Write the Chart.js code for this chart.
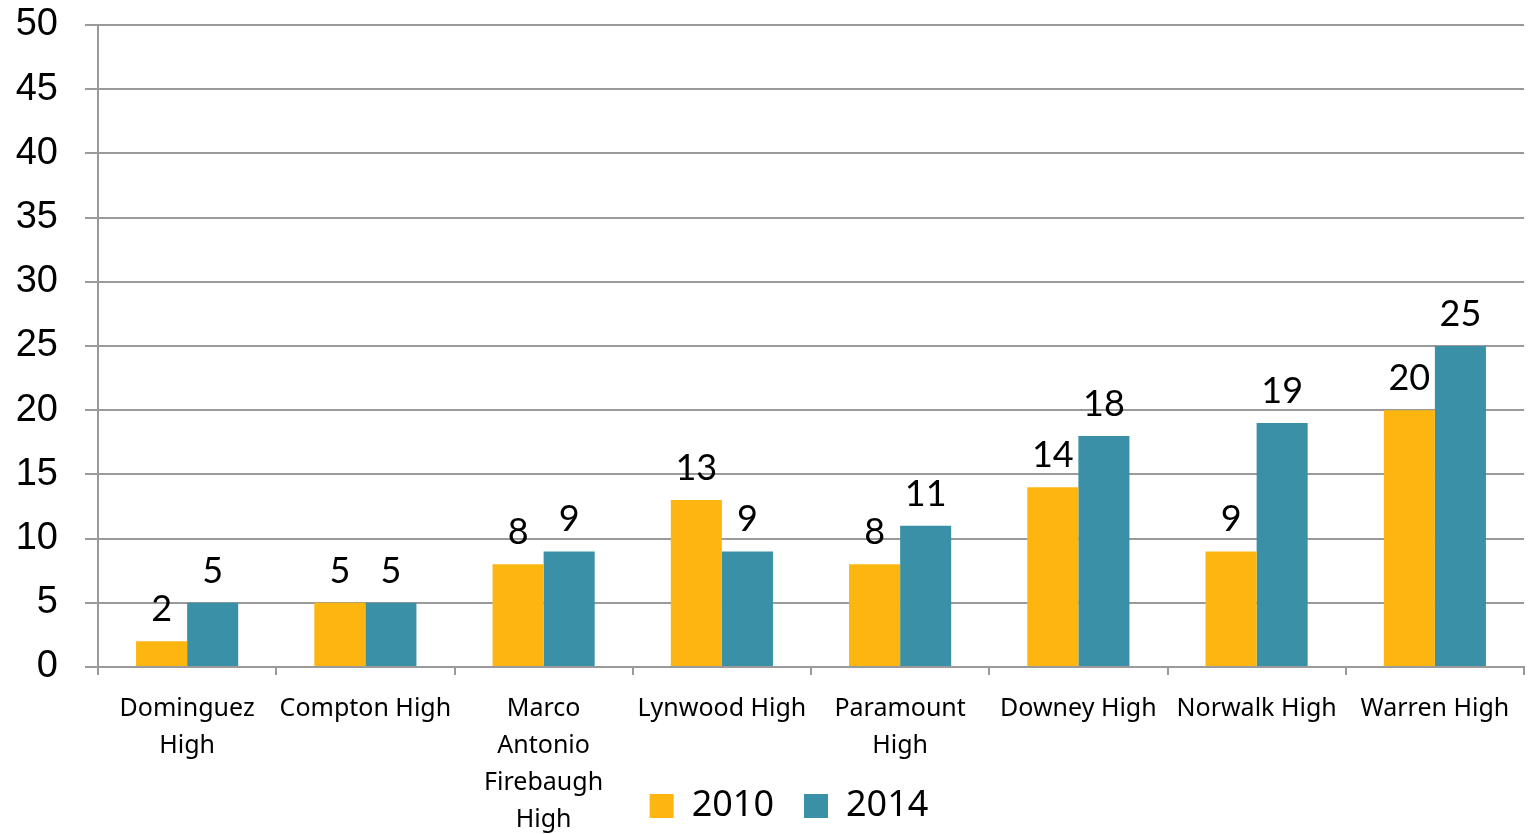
<!DOCTYPE html>
<html>
<head>
<meta charset="utf-8">
<script src="https://cdn.jsdelivr.net/npm/chart.js@4.4.0/dist/chart.umd.min.js"></script>
<style>
  html, body { margin: 0; padding: 0; background: #fff; }
  canvas { display: block; }
</style>
</head>
<body>
<canvas id="chart" width="1529" height="834"></canvas>
<script>
const schools = [
  ['Dominguez', 'High'],
  'Compton High',
  ['Marco', 'Antonio', 'Firebaugh', 'High'],
  'Lynwood High',
  ['Paramount', 'High'],
  'Downey High',
  'Norwalk High',
  'Warren High'
];
const values2010 = [2, 5, 8, 13, 8, 14, 9, 20];
const values2014 = [5, 5, 9, 9, 11, 18, 19, 25];
const yTicks = [0, 5, 10, 15, 20, 25, 30, 35, 40, 45, 50];

const orange = '#FDB60F';
const teal = '#3A91A7';
const gridColor = '#9a9a9a';

// draws the number above every bar
const barLabels = {
  id: 'barLabels',
  afterDatasetsDraw(chart) {
    const ctx = chart.ctx;
    ctx.save();
    ctx.font = '36px Lato';
    ctx.fillStyle = '#000';
    ctx.textAlign = 'center';
    ctx.textBaseline = 'alphabetic';
    chart.data.datasets.forEach(function(ds, i) {
      chart.getDatasetMeta(i).data.forEach(function(bar, j) {
        ctx.fillText(ds.data[j], bar.x, bar.y - 20);
      });
    });
    ctx.restore();
  }
};

// the long school names run down beside the legend, so don't clip them at the axis box
// and nudge the legend a bit right like in the original
const layoutTweaks = {
  id: 'layoutTweaks',
  afterLayout(chart) {
    chart.scales.x.bottom = chart.height;
    chart.legend.left += 27;
    chart.legend.right += 27;
  }
};

const ctx = document.getElementById('chart').getContext('2d');
window.myChart = new Chart(ctx, {
  type: 'bar',
  data: {
    labels: schools,
    datasets: [
      { label: '2010', data: values2010, backgroundColor: orange },
      { label: '2014', data: values2014, backgroundColor: teal }
    ]
  },
  options: {
    responsive: false,
    animation: false,
    devicePixelRatio: 1,
    layout: { padding: { top: 25, right: 5, left: 0, bottom: 0 } },
    datasets: {
      bar: { categoryPercentage: 0.573, barPercentage: 1.0 }
    },
    plugins: {
      tooltip: { enabled: false },
      legend: {
        position: 'bottom',
        labels: {
          boxWidth: 24,
          boxHeight: 24,
          padding: 30,
          color: '#000',
          font: { family: 'Noto Sans', size: 36 }
        }
      }
    },
    scales: {
      x: {
        afterFit(scale) { scale.height = 91; },
        grid: {
          offset: true,
          drawOnChartArea: false,
          tickLength: 8,
          color: gridColor,
          lineWidth: 2
        },
        border: { color: gridColor, width: 2 },
        ticks: {
          color: '#000',
          padding: 15,
          maxRotation: 0,
          autoSkip: false,
          font: { family: 'Noto Sans', size: 25, lineHeight: 1.48 }
        }
      },
      y: {
        min: 0,
        max: 50,
        afterFit(scale) {
          scale.width = 98;
          scale.paddingTop = 0;
          scale.paddingBottom = 0;
        },
        afterBuildTicks(scale) { scale.ticks = yTicks.map(v => ({ value: v })); },
        grid: {
          color: gridColor,
          lineWidth: 2,
          tickLength: 13
        },
        border: { color: gridColor, width: 2 },
        ticks: {
          color: '#000',
          padding: 27,
          font: { family: 'Liberation Sans', size: 38 }
        }
      }
    }
  },
  plugins: [barLabels, layoutTweaks]
});
</script>
</body>
</html>
